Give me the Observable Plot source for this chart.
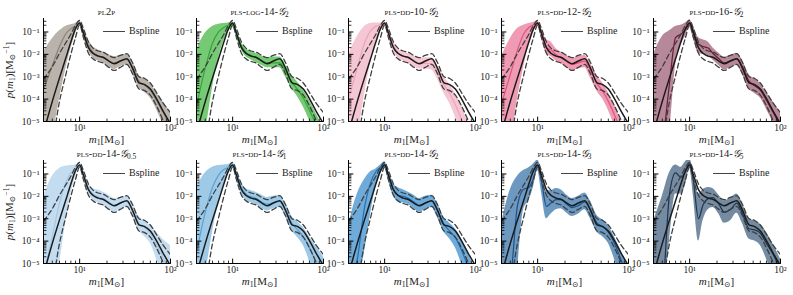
<!DOCTYPE html>
<html><head><meta charset="utf-8">
<script src="https://cdn.jsdelivr.net/npm/d3@7"></script>
<script src="https://cdn.jsdelivr.net/npm/@observablehq/plot@0.6"></script>
<style>
body{margin:0;background:#fff;}
#fig{position:relative;width:793px;height:295px;overflow:hidden;font-family:"Liberation Serif","DejaVu Serif",serif;color:#222;}
.pan{position:absolute;}
.ttl{position:absolute;width:160px;text-align:center;font-size:10.5px;line-height:9px;white-space:nowrap;}
.sc{font-variant:small-caps;}
.xl{position:absolute;width:100px;text-align:center;font-size:11px;line-height:11px;white-space:nowrap;}
.yl{position:absolute;width:120px;text-align:center;font-size:11px;line-height:12px;white-space:nowrap;transform:rotate(-90deg);}
.lg{position:absolute;font-size:10px;line-height:10px;white-space:nowrap;}
.lg span.ln{display:inline-block;width:22px;border-top:1.8px solid #444;vertical-align:middle;margin-right:4px;}
sub{font-size:70%;vertical-align:-2px;line-height:0;}
sup{font-size:70%;vertical-align:4px;line-height:0;}
</style></head><body><div id="fig"></div>
<script>
// primary mass grid (M_sun)
const masses = [4, 5, 6, 7, 8, 9, 10, 11, 12.5, 14, 16, 18, 21, 24, 28, 33, 38, 45, 52, 60, 70, 82, 100];
// all density values below are log10 p(m1)
const bsplineMed = [-5.5, -4.1, -3.05, -2.2, -1.45, -0.85, -0.6, -1.05, -1.7, -1.95, -2.08, -2.13, -2.3, -2.42, -2.3, -2.2, -2.6, -3.27, -3.35, -3.55, -3.98, -4.5, -5.1];
const bsplineHi  = [-3.1, -2.55, -1.95, -1.5, -1.1, -0.7, -0.48, -0.85, -1.45, -1.72, -1.85, -1.9, -2.05, -2.15, -2.05, -1.97, -2.35, -3.0, -3.08, -3.28, -3.7, -4.15, -4.6];
const bsplineLo  = [-7.5, -6.0, -4.1, -2.95, -2.0, -1.25, -0.68, -1.25, -1.95, -2.2, -2.32, -2.38, -2.58, -2.72, -2.58, -2.45, -2.85, -3.55, -3.62, -3.82, -4.3, -4.9, -5.7];

const pl2pHi  = [-1.9, -1.3, -0.95, -0.75, -0.68, -0.62, -0.5, -0.85, -1.35, -1.65, -1.8, -1.88, -2.02, -2.1, -2.05, -2.0, -2.3, -2.95, -3.1, -3.3, -3.7, -4.1, -4.6];
const pl2pLo  = [-7, -5.7, -4.0, -2.7, -1.75, -1.1, -0.72, -1.2, -1.85, -2.15, -2.3, -2.38, -2.58, -2.68, -2.55, -2.48, -2.85, -3.5, -3.7, -3.95, -4.45, -5.1, -6];
const pl2pMed = [-3.6, -2.5, -1.65, -1.1, -0.85, -0.75, -0.6, -1.02, -1.6, -1.9, -2.05, -2.12, -2.3, -2.38, -2.3, -2.22, -2.55, -3.2, -3.38, -3.6, -4.05, -4.55, -5.2];

const log14Hi  = [-1.8, -1.05, -0.75, -0.65, -0.62, -0.6, -0.55, -0.95, -1.5, -1.75, -1.88, -1.95, -2.08, -2.15, -2.12, -2.12, -2.45, -2.95, -3.25, -3.6, -4.05, -4.6, -5.3];
const log14Lo  = [-7, -5.5, -3.5, -2.2, -1.4, -1.0, -0.8, -1.2, -1.8, -2.1, -2.25, -2.35, -2.5, -2.6, -2.6, -2.6, -3.0, -3.55, -3.9, -4.35, -4.95, -5.7, -6.5];
const log14Med = [-4.3, -2.6, -1.5, -1.0, -0.8, -0.7, -0.65, -1.05, -1.62, -1.92, -2.05, -2.14, -2.28, -2.38, -2.38, -2.38, -2.72, -3.25, -3.58, -3.95, -4.5, -5.1, -5.9];

const dd10Hi  = [-2.0, -1.2, -0.75, -0.62, -0.6, -0.6, -0.55, -0.9, -1.45, -1.75, -1.88, -1.95, -2.08, -2.15, -2.15, -2.15, -2.5, -3.0, -3.35, -3.75, -4.3, -5.0, -6];
const dd10Lo  = [-7, -5.8, -3.8, -2.4, -1.5, -1.0, -0.78, -1.2, -1.85, -2.15, -2.3, -2.4, -2.55, -2.65, -2.65, -2.7, -3.1, -3.75, -4.2, -4.8, -5.6, -6.5, -7];
const dd10Med = [-4.0, -2.6, -1.5, -0.95, -0.75, -0.68, -0.62, -1.02, -1.62, -1.92, -2.07, -2.15, -2.3, -2.4, -2.4, -2.42, -2.8, -3.35, -3.75, -4.25, -4.9, -5.7, -6.5];

const dd12Hi  = [-2.1, -1.3, -0.85, -0.7, -0.62, -0.58, -0.5, -0.9, -1.35, -1.45, -1.75, -1.9, -2.05, -2.2, -2.1, -2.05, -2.4, -2.95, -3.3, -3.7, -4.25, -4.95, -6];
const dd12Lo  = [-7, -6.0, -4.0, -2.6, -1.6, -1.05, -0.75, -1.25, -2.0, -2.1, -2.3, -2.4, -2.6, -2.75, -2.65, -2.6, -3.05, -3.65, -4.0, -4.5, -5.2, -6, -7];
const dd12Med = [-4.2, -2.9, -1.8, -1.1, -0.8, -0.68, -0.58, -1.05, -1.7, -1.8, -2.02, -2.15, -2.32, -2.45, -2.38, -2.3, -2.7, -3.3, -3.65, -4.1, -4.7, -5.4, -6.5];

const dd16Hi  = [-2.0, -1.2, -0.95, -0.75, -0.7, -0.6, -0.45, -0.75, -1.25, -1.35, -1.45, -1.7, -1.95, -2.12, -2.05, -1.95, -2.25, -2.9, -3.1, -3.3, -3.7, -4.1, -4.6];
const dd16Lo  = [-7, -6.5, -5.5, -2.5, -1.6, -1.2, -0.8, -1.3, -1.95, -2.0, -2.05, -2.25, -2.5, -2.7, -2.6, -2.5, -2.9, -3.55, -3.75, -3.95, -4.45, -5.0, -5.8];
const dd16Med = [-7, -6.0, -3.3, -1.25, -1.1, -0.9, -0.6, -1.0, -1.55, -1.65, -1.72, -1.95, -2.2, -2.38, -2.3, -2.2, -2.55, -3.2, -3.4, -3.6, -4.05, -4.55, -5.2];

const g05Hi  = [-2.0, -1.1, -0.75, -0.65, -0.62, -0.6, -0.5, -0.85, -1.4, -1.65, -1.72, -1.8, -1.95, -2.1, -2.05, -2.0, -2.3, -2.9, -3.1, -3.3, -3.6, -3.9, -4.2];
const g05Lo  = [-7, -6.5, -5.0, -3.2, -1.9, -1.15, -0.75, -1.25, -1.9, -2.15, -2.3, -2.4, -2.6, -2.7, -2.6, -2.5, -2.9, -3.55, -3.8, -4.1, -4.8, -5.6, -6.5];
const g05Med = [-5.5, -3.8, -2.3, -1.4, -0.95, -0.75, -0.6, -1.05, -1.65, -1.9, -2.0, -2.08, -2.25, -2.38, -2.3, -2.22, -2.58, -3.2, -3.4, -3.65, -4.15, -4.7, -5.4];

const g1Hi  = [-1.6, -0.95, -0.7, -0.62, -0.6, -0.58, -0.48, -0.85, -1.4, -1.65, -1.75, -1.82, -1.95, -2.05, -2.0, -1.95, -2.3, -2.9, -3.15, -3.4, -3.8, -4.2, -4.7];
const g1Lo  = [-7, -5.5, -3.6, -2.3, -1.5, -1.05, -0.75, -1.25, -1.9, -2.2, -2.3, -2.35, -2.55, -2.65, -2.55, -2.5, -2.9, -3.55, -3.85, -4.2, -4.9, -5.8, -7];
const g1Med = [-4.5, -2.7, -1.6, -1.05, -0.8, -0.7, -0.6, -1.02, -1.62, -1.9, -2.02, -2.08, -2.25, -2.35, -2.28, -2.22, -2.6, -3.2, -3.5, -3.8, -4.3, -4.9, -5.7];

const g2Hi  = [-3.3, -1.9, -1.25, -0.9, -0.78, -0.6, -0.45, -0.85, -1.45, -1.6, -1.7, -1.8, -1.95, -2.1, -2.0, -1.95, -2.3, -2.95, -3.2, -3.45, -3.9, -4.5, -5.3];
const g2Lo  = [-7, -6, -4.5, -2.8, -1.6, -1.05, -0.75, -1.3, -2.0, -2.25, -2.3, -2.35, -2.55, -2.7, -2.6, -2.5, -2.95, -3.6, -3.9, -4.3, -5.0, -5.8, -7];
const g2Med = [-6, -4.8, -2.5, -1.4, -0.9, -0.7, -0.55, -1.05, -1.72, -1.95, -2.0, -2.08, -2.25, -2.4, -2.3, -2.2, -2.62, -3.25, -3.55, -3.85, -4.4, -5.1, -6];

const g3Hi  = [-3.2, -1.7, -1.1, -0.85, -0.72, -0.55, -0.38, -0.8, -1.75, -1.75, -1.65, -1.7, -1.95, -2.1, -2.0, -1.85, -2.2, -2.85, -3.05, -3.3, -3.8, -4.4, -5.2];
const g3Lo  = [-8, -7, -5.2, -2.6, -2.2, -1.6, -0.85, -1.8, -3.0, -2.8, -2.6, -2.55, -2.75, -2.9, -2.8, -2.6, -3.0, -3.6, -3.8, -4.1, -4.8, -5.7, -7];
const g3Med = [-8, -6, -2.4, -1.68, -1.6, -1.2, -0.6, -1.3, -2.45, -2.3, -2.15, -2.15, -2.35, -2.5, -2.42, -2.25, -2.6, -3.2, -3.35, -3.6, -4.1, -4.8, -5.8];

const g5Hi  = [-3.1, -2.0, -0.95, -0.6, -0.7, -0.45, -0.3, -0.9, -1.9, -1.7, -1.6, -1.65, -1.95, -2.2, -2.1, -1.9, -2.3, -3.0, -3.1, -3.25, -3.6, -4.1, -4.8];
const g5Lo  = [-8, -7, -4.0, -1.9, -1.9, -1.5, -0.75, -2.0, -4.0, -3.1, -2.6, -2.5, -2.8, -3.2, -3.1, -2.75, -3.2, -3.9, -4.0, -4.2, -4.8, -5.6, -7];
const g5Med = [-8, -6.5, -1.9, -0.95, -1.15, -0.9, -0.5, -1.3, -3.0, -2.4, -2.1, -2.05, -2.35, -2.7, -2.6, -2.3, -2.75, -3.45, -3.5, -3.65, -4.1, -4.55, -5.3];

const titles = [
  '<span class="sc">pl2p</span>',
  '<span class="sc">pls-log</span>-14-<i>𝒢</i><sub>2</sub>',
  '<span class="sc">pls-dd</span>-10-<i>𝒢</i><sub>2</sub>',
  '<span class="sc">pls-dd</span>-12-<i>𝒢</i><sub>2</sub>',
  '<span class="sc">pls-dd</span>-16-<i>𝒢</i><sub>2</sub>',
  '<span class="sc">pls-dd</span>-14-<i>𝒢</i><sub>0.5</sub>',
  '<span class="sc">pls-dd</span>-14-<i>𝒢</i><sub>1</sub>',
  '<span class="sc">pls-dd</span>-14-<i>𝒢</i><sub>2</sub>',
  '<span class="sc">pls-dd</span>-14-<i>𝒢</i><sub>3</sub>',
  '<span class="sc">pls-dd</span>-14-<i>𝒢</i><sub>5</sub>'
];
const models = [
  {lo: pl2pLo, hi: pl2pHi, med: pl2pMed, fill: "#9d9389", op: 0.7, line: "#8a8178"},
  {lo: log14Lo, hi: log14Hi, med: log14Med, fill: "#4fbb4f", op: 0.78, line: "#35a535"},
  {lo: dd10Lo, hi: dd10Hi, med: dd10Med, fill: "#f3bccb", op: 0.85, line: "#eba5b8"},
  {lo: dd12Lo, hi: dd12Hi, med: dd12Med, fill: "#ea7f9f", op: 0.78, line: "#e0557e"},
  {lo: dd16Lo, hi: dd16Hi, med: dd16Med, fill: "#8a3f5b", op: 0.62, line: "#6a1d39"},
  {lo: g05Lo, hi: g05Hi, med: g05Med, fill: "#bcd8ee", op: 0.9, line: "#a3c8e6"},
  {lo: g1Lo, hi: g1Hi, med: g1Med, fill: "#86bde2", op: 0.8, line: "#5aa0d2"},
  {lo: g2Lo, hi: g2Hi, med: g2Med, fill: "#3f8fcb", op: 0.75, line: "#2170b2"},
  {lo: g3Lo, hi: g3Hi, med: g3Med, fill: "#2f6ea6", op: 0.7, line: "#1a5289"},
  {lo: g5Lo, hi: g5Hi, med: g5Med, fill: "#3a5a79", op: 0.7, line: "#1b3552"}
];
const yMajor = [1e-5, 1e-4, 1e-3, 1e-2, 1e-1];
const xMajor = [10, 100];
const legendLabel = "Bspline";

const panelLeft = [43, 196, 348, 501, 653];
const panelTop = [18, 160];
const PW = 127, PH = 103, ML = 35, MR = 14, MT = 18, MB = 30;

const supMap = {"-": "⁻", "0": "⁰", "1": "¹", "2": "²", "3": "³", "4": "⁴", "5": "⁵", "6": "⁶", "7": "⁷", "8": "⁸", "9": "⁹"};
const fmtPow = v => "10" + String(Math.round(Math.log10(v))).split("").map(c => supMap[c]).join("");

const yMinor = [], xMinor = [];
for (const d of yMajor) for (let k = 2; k <= 9; k++) if (k * d < 0.4) yMinor.push(k * d);
for (const d of [1, 10]) for (let k = 1; k <= 9; k++) { const v = k * d; if (v >= 4 && v < 100 && v !== 10) xMinor.push(v); }

const tickShape = {draw(context, l) { context.moveTo(0, 0); context.lineTo(0, -l); }};

const fig = document.getElementById("fig");
const font = '"Liberation Serif","DejaVu Serif",serif';

models.forEach((mdl, i) => {
  const col = i % 5, row = Math.floor(i / 5);
  const L = panelLeft[col], T = panelTop[row];
  const rows = masses.map((m, j) => ({
    m,
    lo: 10 ** mdl.lo[j], hi: 10 ** mdl.hi[j], med: 10 ** mdl.med[j],
    bLo: 10 ** bsplineLo[j], bHi: 10 ** bsplineHi[j], bMed: 10 ** bsplineMed[j]
  }));
  const curve = "monotone-x";
  const plot = Plot.plot({
    width: ML + PW + MR, height: MT + PH + MB,
    marginLeft: ML, marginRight: MR, marginTop: MT, marginBottom: MB,
    style: {background: "transparent", fontFamily: font, fontSize: "9.5px", color: "#222", overflow: "visible"},
    x: {type: "log", domain: [4, 100]},
    y: {type: "log", domain: [1e-5, 0.4]},
    marks: [
      Plot.areaY(rows, {x: "m", y1: "lo", y2: "hi", fill: mdl.fill, fillOpacity: mdl.op, curve, clip: true}),
      Plot.line(rows, {x: "m", y: "med", stroke: mdl.line, strokeWidth: 1.2, curve, clip: true}),
      Plot.line(rows, {x: "m", y: "bLo", stroke: "#404040", strokeWidth: 1.3, strokeDasharray: "5,3", curve, clip: true}),
      Plot.line(rows, {x: "m", y: "bHi", stroke: "#404040", strokeWidth: 1.3, strokeDasharray: "5,3", curve, clip: true}),
      Plot.line(rows, {x: "m", y: "bMed", stroke: "#1a1a1a", strokeWidth: 1.5, curve, clip: true}),
      Plot.vector(yMajor, {y: d => d, frameAnchor: "left", length: 4.5, rotate: 90, anchor: "start", shape: tickShape, stroke: "#000", strokeWidth: 1}),
      Plot.vector(yMinor, {y: d => d, frameAnchor: "left", length: 2.5, rotate: 90, anchor: "start", shape: tickShape, stroke: "#000", strokeWidth: 0.8}),
      Plot.vector(xMajor, {x: d => d, frameAnchor: "bottom", length: 4.5, anchor: "start", shape: tickShape, stroke: "#000", strokeWidth: 1}),
      Plot.vector(xMinor, {x: d => d, frameAnchor: "bottom", length: 2.5, anchor: "start", shape: tickShape, stroke: "#000", strokeWidth: 0.8}),
      Plot.ruleX([4], {stroke: "#000", strokeWidth: 1}),
      Plot.ruleY([1e-5], {stroke: "#000", strokeWidth: 1}),
      Plot.axisY({ticks: yMajor, tickFormat: fmtPow, tickSize: 0, tickPadding: 4, label: null, fill: "#222"}),
      Plot.axisX({ticks: xMajor, tickFormat: fmtPow, tickSize: 0, tickPadding: 3, label: null, fill: "#222"})
    ]
  });
  const wrap = document.createElement("div");
  wrap.className = "pan";
  wrap.style.left = (L - ML) + "px";
  wrap.style.top = (T - MT) + "px";
  wrap.style.width = (ML + PW + MR) + "px";
  wrap.appendChild(plot);
  fig.appendChild(wrap);

  const t = document.createElement("div");
  t.className = "ttl";
  t.innerHTML = titles[i];
  t.style.left = (L + PW / 2 - 80) + "px";
  t.style.top = (T - 11) + "px";
  fig.appendChild(t);

  const xl = document.createElement("div");
  xl.className = "xl";
  xl.innerHTML = '<i>m</i><sub>1</sub>[M<sub>⊙</sub>]';
  xl.style.left = (L + PW / 2 - 50) + "px";
  xl.style.top = (T + PH + 13) + "px";
  fig.appendChild(xl);

  const lg = document.createElement("div");
  lg.className = "lg";
  lg.innerHTML = '<span class="ln"></span>' + legendLabel;
  lg.style.left = (L + 60) + "px";
  lg.style.top = (T + 8) + "px";
  fig.appendChild(lg);

  if (col === 0) {
    const yl = document.createElement("div");
    yl.className = "yl";
    yl.innerHTML = '<i>p</i>(<i>m</i><sub>1</sub>)[M<sub>⊙</sub><sup>−1</sup>]';
    yl.style.left = (9 - 60) + "px";
    yl.style.top = (T + PH / 2 - 6) + "px";
    fig.appendChild(yl);
  }
});
</script>
</body></html>
